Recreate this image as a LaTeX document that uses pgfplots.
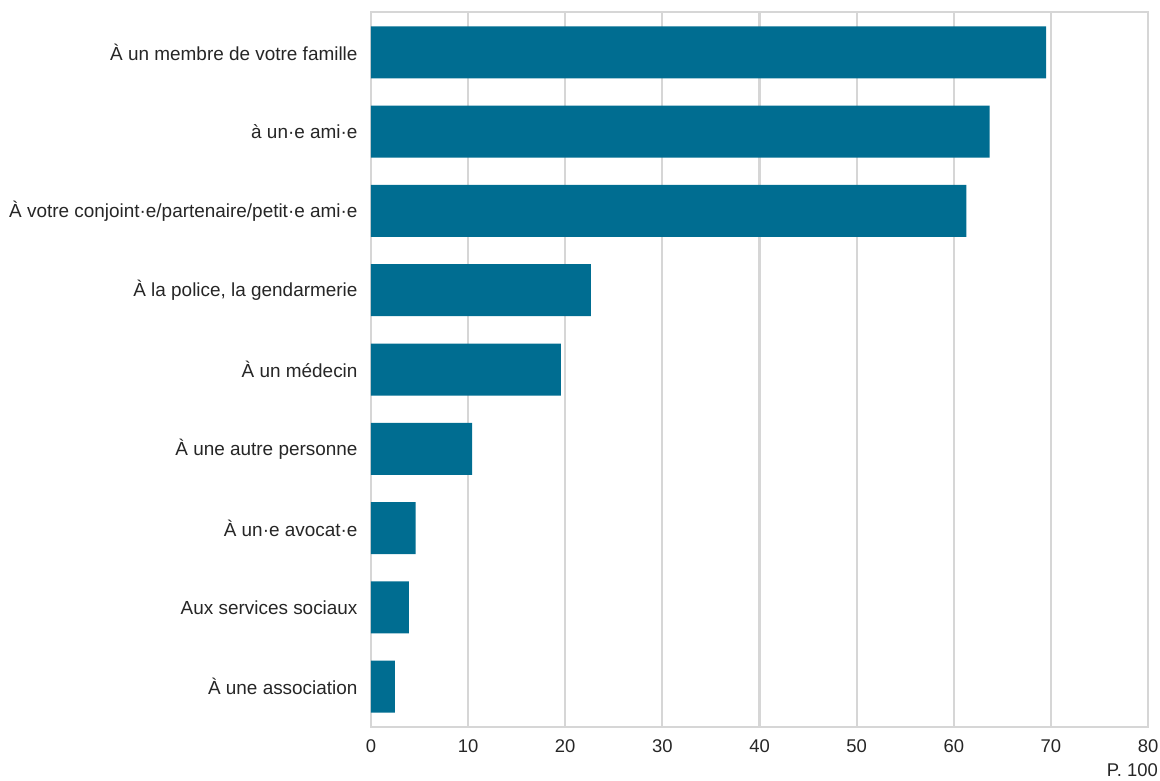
\documentclass[border=0pt]{standalone}
\usepackage{pgfplots}
\pgfplotsset{compat=1.18}
\usepackage{fontspec}
\setmainfont{Liberation Sans}
\definecolor{barblue}{HTML}{006D91}
\definecolor{gridgray}{HTML}{D6D6D6}
\definecolor{txt}{HTML}{262626}
\begin{document}
\begin{tikzpicture}
\begin{axis}[
  scale only axis,
  width=777bp, height=715bp,
  xbar, bar width=52bp,
  xmin=0, xmax=80,
  ymin=-0.51, ymax=8.51,
  y dir=reverse,
  xtick={0,10,...,80},
  ytick={0,...,8},
  yticklabels={À un membre de votre famille, à un·e ami·e, À votre conjoint·e/partenaire/petit·e ami·e, {À la police, la gendarmerie}, À un médecin, À une autre personne, À un·e avocat·e, Aux services sociaux, À une association},
  major tick length=0pt,
  xmajorgrids,
  grid style={gridgray, line width=2.2bp},
  axis line style={gridgray, line width=2.2bp},
  tick label style={text=txt},
  /pgf/number format/assume math mode=true,
  yticklabel style={font=\fontsize{19}{22}\selectfont, xshift=-10bp},
  xticklabel style={font=\fontsize{18.5}{22}\selectfont, yshift=-9bp},
  axis on top=false,
]
\addplot[fill=barblue, draw=none] coordinates {
 (69.5,0) (63.7,1) (61.3,2) (22.65,3) (19.55,4) (10.4,5) (4.6,6) (3.9,7) (2.45,8)
};
\coordinate (BL) at (rel axis cs:0,0);
\coordinate (TR) at (rel axis cs:1,1);
\end{axis}
\node[anchor=east, font=\fontsize{18.5}{22}\selectfont, text=txt, inner sep=0pt] at ([xshift=10bp,yshift=-43bp]BL -| TR) {P. 100};
\pgfresetboundingbox
\path ([xshift=-371bp,yshift=-53bp]BL) rectangle ([xshift=12bp,yshift=12bp]TR);
\end{tikzpicture}
\end{document}
